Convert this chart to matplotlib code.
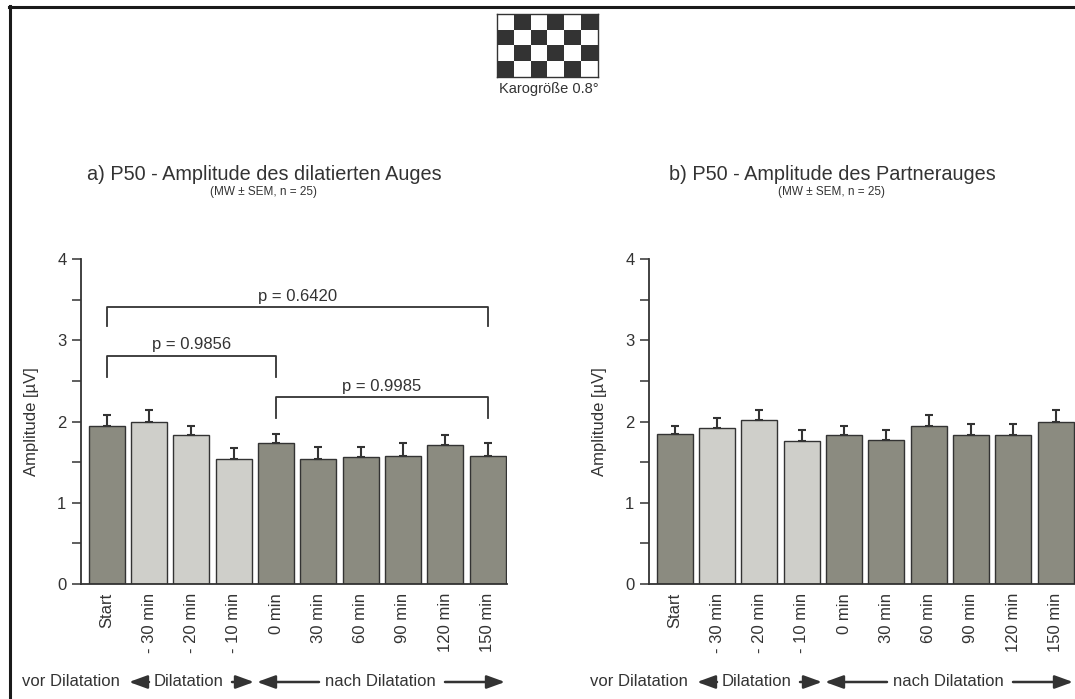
import numpy as np
import matplotlib
matplotlib.use("Agg")
import matplotlib.pyplot as plt
from matplotlib.lines import Line2D

plt.rcParams['font.family'] = ['Liberation Sans', 'DejaVu Sans']

# Daten
labels = ["Start", "- 30 min", "- 20 min", "- 10 min", "0 min",
          "30 min", "60 min", "90 min", "120 min", "150 min"]
is_dilatation = [False, True, True, True, False, False, False, False, False, False]

mw_dilatiert = [1.95, 2.00, 1.83, 1.54, 1.74, 1.54, 1.56, 1.58, 1.71, 1.58]
sem_dilatiert = [0.13, 0.14, 0.11, 0.13, 0.11, 0.15, 0.13, 0.16, 0.12, 0.16]

mw_partner = [1.85, 1.92, 2.02, 1.76, 1.83, 1.77, 1.95, 1.83, 1.83, 1.99]
sem_partner = [0.10, 0.12, 0.12, 0.14, 0.11, 0.13, 0.13, 0.14, 0.14, 0.15]

# p-Werte (von Balken, bis Balken, Text)
p_pairs = [(0, 9), (0, 4), (4, 9)]
p_texts = ["p = 0.6420", "p = 0.9856", "p = 0.9985"]

W, H = 1075, 699
DARK = "#333333"
C_DARK = "#8b8b80"
C_LIGHT = "#cfcfca"

fig = plt.figure(figsize=(W / 100, H / 100), dpi=100)


def fx(px):
    return px / W


def fy(py):
    return 1 - py / H


def panel(x0, mw, sem, title):
    ax = fig.add_axes([fx(x0), fy(584), fx(426), (584 - 259) / H])
    x = np.arange(len(mw))
    colors = [C_LIGHT if d else C_DARK for d in is_dilatation]
    ax.bar(x, mw, width=0.85, color=colors, edgecolor=DARK, linewidth=1.0, zorder=2)
    ax.errorbar(x, mw, yerr=[np.zeros(len(sem)), sem], fmt='none', ecolor=DARK,
                elinewidth=1.5, capsize=2.7, capthick=1.5, zorder=3)
    ax.set_ylim(0, 4)
    ax.set_xlim(-0.61, 9.46)
    ax.set_yticks([0, 1, 2, 3, 4])
    ax.set_yticks(np.arange(0, 4.01, 0.5), minor=True)
    ax.tick_params(axis='y', which='both', direction='out', length=6.5, width=1.1,
                   color=DARK, labelsize=12, labelcolor=DARK, pad=4)
    ax.set_xticks(x)
    ax.set_xticklabels(labels, rotation=90, ha='center', va='top', fontsize=12, color=DARK)
    ax.tick_params(axis='x', length=0, pad=6.5)
    for s in ['top', 'right']:
        ax.spines[s].set_visible(False)
    for s in ['left', 'bottom']:
        ax.spines[s].set_color(DARK)
        ax.spines[s].set_linewidth(1.3)
    ax.set_ylabel("Amplitude [µV]", fontsize=12, color=DARK)
    ax.yaxis.set_label_coords(-42 / 426, 0.5)
    ax.set_facecolor('none')

    cx = x0 + 426 / 2 - 30
    fig.text(fx(cx), fy(175), title, ha='center', va='center', fontsize=14.3, color=DARK)
    fig.text(fx(cx), fy(192), "(MW ± SEM, n = 25)", ha='center', va='center',
             fontsize=8.5, color=DARK)

    # Zeitachse unten
    yb = fy(682)
    for txt, px in [("vor Dilatation", -59), ("Dilatation", 73), ("nach Dilatation", 244)]:
        fig.text(fx(x0 + px), yb, txt, ha='left', va='center', fontsize=12, color=DARK)
    arrows = [(68, 48), (151, 173), (238, 176), (364, 424)]
    for tail, tip in arrows:
        ax.annotate('', xy=(fx(x0 + tip), yb), xytext=(fx(x0 + tail), yb),
                    xycoords='figure fraction', textcoords='figure fraction',
                    arrowprops=dict(arrowstyle='-|>,head_length=0.55,head_width=0.2',
                                    mutation_scale=20, color=DARK, lw=1.8,
                                    shrinkA=0, shrinkB=0))
    return ax


ax1 = panel(81, mw_dilatiert, sem_dilatiert, "a) P50 - Amplitude des dilatierten Auges")
ax2 = panel(649, mw_partner, sem_partner, "b) P50 - Amplitude des Partnerauges")

# Signifikanzklammern
levels = [(3.41, 3.17), (2.81, 2.55), (2.30, 2.04)]
for (a, b), txt, (top, low) in zip(p_pairs, p_texts, levels):
    ax1.plot([a, a, b, b], [low, top, top, low], color=DARK, lw=1.3, zorder=4)
    ax1.text((a + b) / 2, top + 0.04, txt, ha='center', va='bottom', fontsize=12, color=DARK)

# Karomuster
axc = fig.add_axes([fx(497), fy(77), fx(101), 63 / H])
pattern = np.indices((4, 6)).sum(axis=0) % 2
axc.imshow(pattern, cmap=matplotlib.colors.ListedColormap(["white", DARK]),
           aspect='auto', interpolation='nearest')
axc.set_xticks([])
axc.set_yticks([])
for s in axc.spines.values():
    s.set_color(DARK)
    s.set_linewidth(1.0)
fig.text(fx(549), fy(89), "Karogröße 0.8°", ha='center', va='center', fontsize=10.5, color=DARK)

# Rahmen
fig.add_artist(Line2D([fx(9.5), fx(9.5)], [0, fy(6)], color="#1a1a1a", lw=2.2))
fig.add_artist(Line2D([fx(8.5), 1], [fy(7), fy(7)], color="#1a1a1a", lw=2.2))

fig.savefig("out.png", dpi=100)
